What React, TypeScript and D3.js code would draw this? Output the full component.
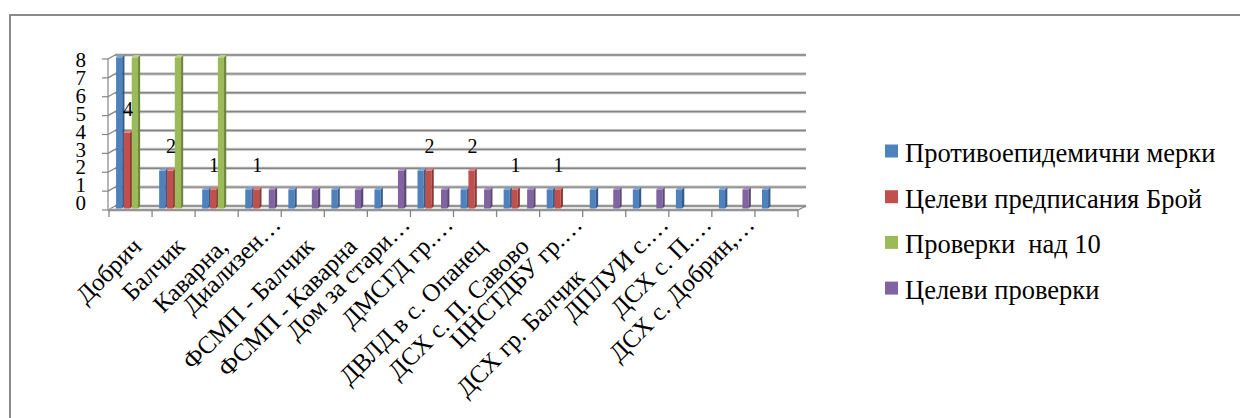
import React from "react";
import * as d3 from "d3";

const categories = [
  "Добрич",
  "Балчик",
  "Каварна,",
  "Диализен…",
  "ФСМП - Балчик",
  "ФСМП - Каварна",
  "Дом за стари…",
  "ДМСГД гр.…",
  "ДВЛД в с. Опанец",
  "ДСХ с. П. Савово",
  "ЦНСТДБУ гр.…",
  "ДСХ гр. Балчик       ",
  "ДПЛУИ с.…",
  "ДСХ с. П.…",
  "ДСХ с. Добрин,…",
  "",
];

const seriesNames = [
  "Противоепидемични мерки",
  "Целеви предписания Брой",
  "Проверки  над 10",
  "Целеви проверки",
];

const protivoepidemichni = [8, 2, 1, 1, 1, 1, 1, 2, 1, 1, 1, 1, 1, 1, 1, 1];
const predpisaniya = [4, 2, 1, 1, 0, 0, 0, 2, 2, 1, 1, 0, 0, 0, 0, 0];
const proverkiNad10 = [8, 8, 8, 0, 0, 0, 0, 0, 0, 0, 0, 0, 0, 0, 0, 0];
const celeviProverki = [0, 0, 0, 1, 1, 1, 2, 1, 1, 1, 0, 1, 1, 0, 1, 0];

const yTicks = [0, 1, 2, 3, 4, 5, 6, 7, 8];

const seriesValues = [protivoepidemichni, predpisaniya, proverkiNad10, celeviProverki];
const labelledSeries = 1;

const colors = [
  { front: "#4F81BD", side: "#385D8A", top: "#7EA2D0" },
  { front: "#C0504D", side: "#8C3836", top: "#D47E7B" },
  { front: "#9BBB59", side: "#71893F", top: "#B8D184" },
  { front: "#8064A2", side: "#5C4876", top: "#A08ABD" },
];

const FONT = '"Liberation Serif"';

export default function App() {
  const W = 1240;
  const H = 418;
  const x0 = d3.scaleBand<string>().domain(categories.map((_, i) => String(i))).range([109, 798]).paddingInner(0).paddingOuter(0);
  const bw = x0.bandwidth();
  const x1 = d3.scaleBand<number>().domain([0, 1, 2, 3]).range([0, bw]).paddingInner(0).paddingOuter(0.75);
  const step = x1.bandwidth();
  const y = d3.scaleLinear().domain([0, 8]).range([206, 55]);
  const yLab = d3.scaleLinear().domain([0, 8]).range([203, 59.5]);

  const d = 2.3;
  const fw = step * 0.78;
  const wallDx = 6;
  const wallDy = 4;
  const axisY = y(0) + wallDy;
  const leftX = x0.range()[0];
  const rightX = x0.range()[1];

  const txt = (size: number): React.CSSProperties => ({ fontFamily: FONT, fontSize: size, whiteSpace: "pre" });

  const bars: React.ReactNode[] = [];
  categories.forEach((_, ci) => {
    seriesValues.forEach((vals, si) => {
      const v = vals[ci];
      if (!v) return;
      const bx = (x0(String(ci)) as number) + (x1(si) as number) + 1.2;
      const yt = y(v);
      const yb = y(0) + 2.5;
      const c = colors[si];
      bars.push(
        <g key={`b${ci}-${si}`}>
          <rect x={bx} y={yt + d} width={fw} height={yb - yt - d} fill={c.front} />
          <polygon
            points={`${bx + fw},${yt + d} ${bx + fw + d},${yt} ${bx + fw + d},${yb - d} ${bx + fw},${yb}`}
            fill={c.side}
          />
          <polygon
            points={`${bx},${yt + d} ${bx + d},${yt} ${bx + fw + d},${yt} ${bx + fw},${yt + d}`}
            fill={c.top}
          />
        </g>
      );
    });
  });

  const dataLabels = predpisaniya.map((v, ci) => {
    if (!v) return null;
    const cx = (x0(String(ci)) as number) + (x1(labelledSeries) as number) + 1.2 + fw / 2 + 1;
    return (
      <text key={`dl${ci}`} x={cx} y={y(v) - 15} textAnchor="middle" style={txt(20)} fill="#000">
        {v}
      </text>
    );
  });

  return (
    <svg width={W} height={H} style={{ position: "absolute", left: 0, top: 0, background: "#fff" }}>
      <rect x={10} y={15} width={W + 20} height={H + 20} fill="#fff" stroke="#8a8a8a" strokeWidth={2} />

      {yTicks.map((t) => (
        <g key={`g${t}`}>
          <line x1={leftX + wallDx} x2={rightX + wallDx + 2} y1={y(t)} y2={y(t)} stroke="#c8c8c8" strokeWidth={3.2} />
          <line x1={leftX + wallDx} x2={rightX + wallDx + 2} y1={y(t)} y2={y(t)} stroke="#858585" strokeWidth={1.4} />
          <line x1={leftX - 1} x2={leftX + wallDx} y1={y(t) + wallDy} y2={y(t)} stroke="#858585" strokeWidth={1.2} />
          <line x1={leftX - 7} x2={leftX - 1} y1={y(t) + wallDy} y2={y(t) + wallDy} stroke="#858585" strokeWidth={1.2} />
        </g>
      ))}
      <line x1={leftX - 1} x2={leftX - 1} y1={y(8) + wallDy} y2={axisY} stroke="#858585" strokeWidth={1.2} />
      <line x1={leftX - 1} x2={rightX} y1={axisY} y2={axisY} stroke="#c8c8c8" strokeWidth={3} />
      <line x1={leftX - 1} x2={rightX} y1={axisY} y2={axisY} stroke="#858585" strokeWidth={1.3} />
      <line x1={rightX} x2={rightX + wallDx + 2} y1={axisY} y2={y(0)} stroke="#858585" strokeWidth={1.3} />
      {d3.range(categories.length + 1).map((i) => {
        const tx = leftX + i * bw;
        return <line key={`t${i}`} x1={tx} x2={tx} y1={axisY} y2={axisY + 7} stroke="#858585" strokeWidth={1.3} />;
      })}

      {bars}
      {dataLabels}

      {yTicks.map((t) => (
        <text key={`yl${t}`} x={86} y={yLab(t)} dy="0.35em" textAnchor="end" style={txt(21)} fill="#000">
          {t}
        </text>
      ))}

      {categories.map((c, ci) => {
        if (!c) return null;
        const right = (x0(String(ci)) as number) + bw;
        const ell = c.trim().endsWith("…");
        const tx = ell ? right + 1 : right - 9;
        const ty = ell ? axisY + 16 : axisY + 38;
        return (
          <text key={`cl${ci}`} transform={`translate(${tx},${ty}) rotate(-45)`} textAnchor="end" style={txt(25)} fill="#000">
            {c}
          </text>
        );
      })}

      {seriesNames.map((n, i) => {
        const cy = 151 + i * 45.7;
        return (
          <g key={`lg${i}`}>
            <rect x={885} y={cy - 6.5} width={13} height={13} fill={colors[i].front} />
            <text x={905} y={cy + 11} style={txt(26.5)} fill="#000">
              {n}
            </text>
          </g>
        );
      })}
    </svg>
  );
}
